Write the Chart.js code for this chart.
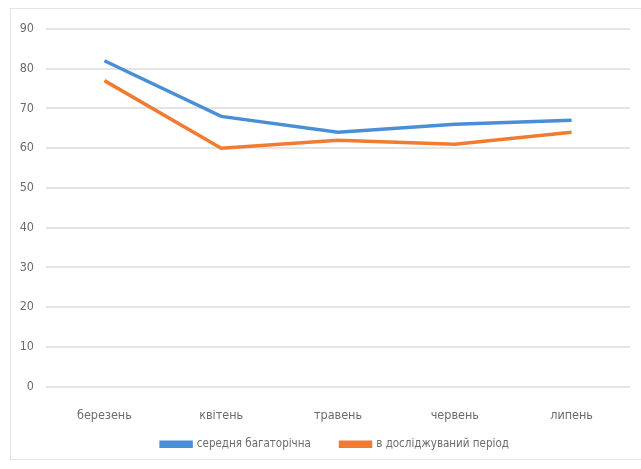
<!DOCTYPE html>
<html>
<head>
<meta charset="utf-8">
<script src="https://cdn.jsdelivr.net/npm/chart.js@4"></script>
<style>
  html, body { margin: 0; padding: 0; background: #fff; }
  .wrap { position: relative; width: 641px; height: 469px; }
  .frame { position: absolute; left: 10px; top: 8px; right: 0; bottom: 9px;
           border-left: 1px solid #e3e3e3; border-top: 1px solid #e3e3e3; border-bottom: 1px solid #e3e3e3; }
  canvas { position: absolute; left: 0; top: 0; }
</style>
</head>
<body>
<div class="wrap">
  <div class="frame"></div>
  <canvas id="chart" width="641" height="469"></canvas>
</div>
<script>
// months and the two series
const months = ['березень', 'квітень', 'травень', 'червень', 'липень'];
const longTermAvg = [82, 68, 64, 66, 67];
const studyPeriod = [77, 60, 62, 61, 64];
const yTicks = [0, 10, 20, 30, 40, 50, 60, 70, 80, 90];

const FONT = "'Liberation Sans Narrow', 'DejaVu Sans Condensed', 'Open Sans', sans-serif";
const TEXT = '#6b6b6b';

// nudge the legend a little to the right of the plot centre
const legendShift = {
  id: 'legendShift',
  afterLayout(chart) {
    const lg = chart.legend;
    if (lg) { lg.left += 20; lg.right += 20; lg.top += 2; lg.bottom += 2; }
  }
};

const ctx = document.getElementById('chart').getContext('2d');
new Chart(ctx, {
  type: 'line',
  data: {
    labels: months,
    datasets: [
      {
        label: 'середня багаторічна',
        data: longTermAvg,
        borderColor: '#4a8fd6',
        backgroundColor: '#4a8fd6',
        borderWidth: 3.5,
        pointRadius: 0,
        tension: 0
      },
      {
        label: 'в досліджуваний період',
        data: studyPeriod,
        borderColor: '#f07b31',
        backgroundColor: '#f07b31',
        borderWidth: 3.5,
        pointRadius: 0,
        tension: 0
      }
    ]
  },
  options: {
    responsive: false,
    animation: false,
    layout: { padding: { top: 29, right: 11, left: 0, bottom: 11 } },
    plugins: {
      tooltip: { enabled: false },
      legend: {
        position: 'bottom',
        labels: {
          boxWidth: 30,
          boxHeight: 4,
          padding: 10,
          color: TEXT,
          font: { family: FONT, size: 11.5 },
          // extra room after the first entry
          generateLabels: (chart) => Chart.defaults.plugins.legend.labels.generateLabels(chart)
            .map((item, i) => Object.assign(item, { text: i === 0 ? item.text + '      ' : item.text }))
        }
      }
    },
    scales: {
      x: {
        offset: true,
        afterFit: (s) => { s.height = 40; },
        grid: { display: false },
        border: { display: false },
        ticks: { color: TEXT, font: { family: FONT, size: 12.5 }, padding: 14 }
      },
      y: {
        min: 0,
        max: 90,
        afterFit: (s) => { s.width = 46; },
        afterBuildTicks: (s) => { s.ticks = yTicks.map(v => ({ value: v })); },
        grid: { color: '#e4e4e4', lineWidth: 2, drawTicks: false },
        border: { display: false },
        ticks: { color: TEXT, font: { family: FONT, size: 12.5 }, padding: 12 }
      }
    }
  },
  plugins: [legendShift]
});
</script>
</body>
</html>
